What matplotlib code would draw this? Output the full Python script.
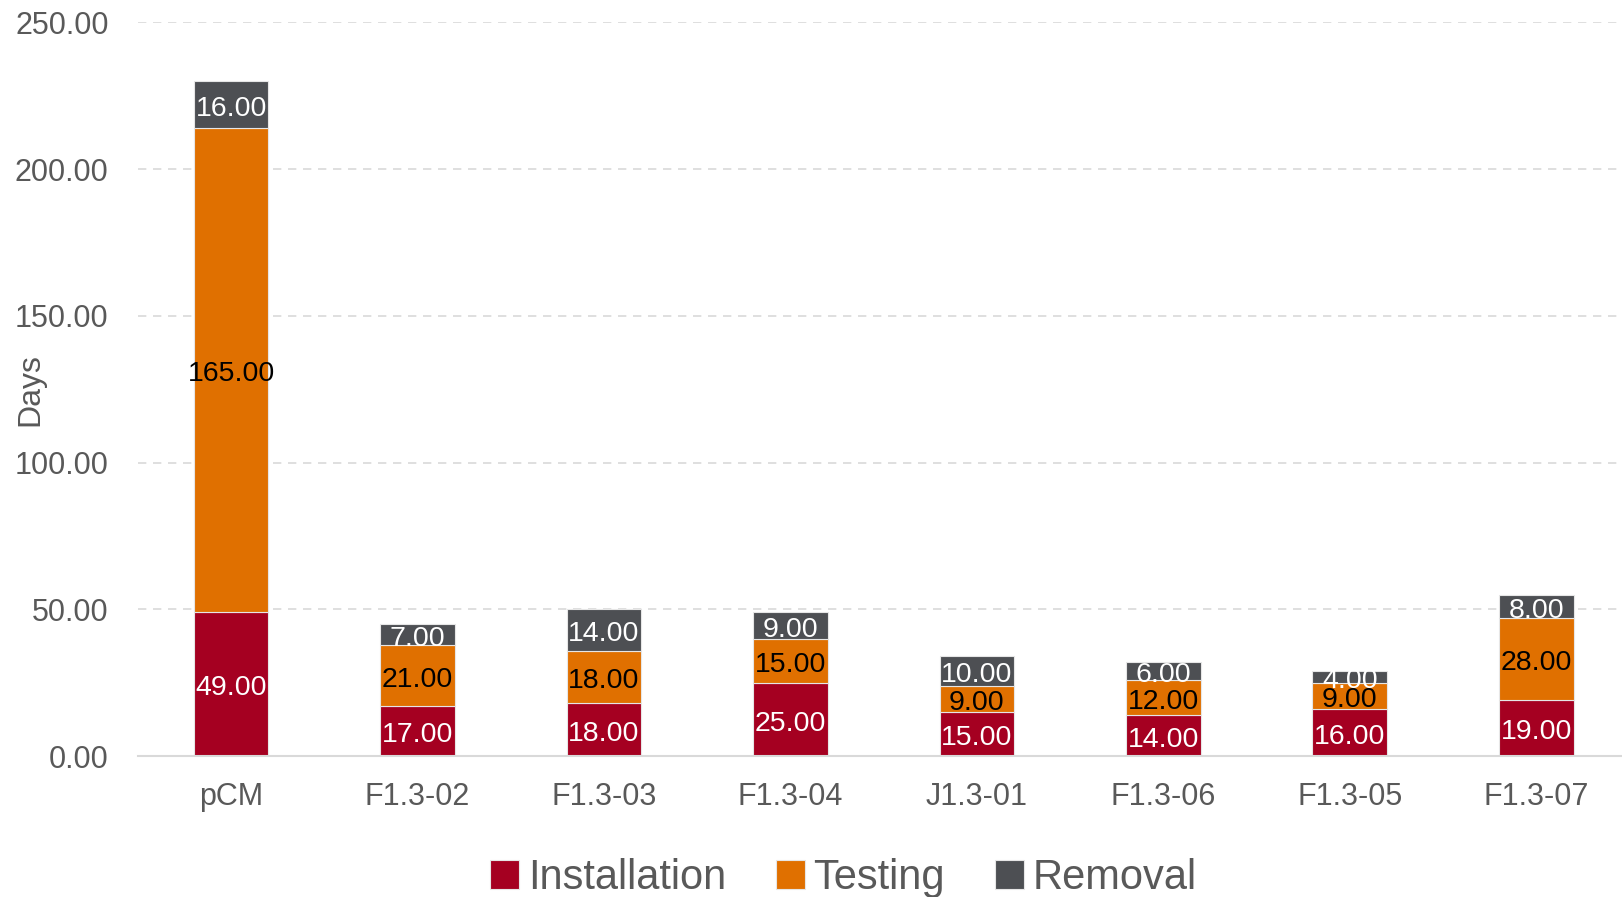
import matplotlib.pyplot as plt
import numpy as np

# stacked days per phase for each sample
categories = ["pCM", "F1.3-02", "F1.3-03", "F1.3-04", "J1.3-01", "F1.3-06", "F1.3-05", "F1.3-07"]
installation = [49, 17, 18, 25, 15, 14, 16, 19]
testing = [165, 21, 18, 15, 9, 12, 9, 28]
removal = [16, 7, 14, 9, 10, 6, 4, 8]

series = [
    ("Installation", installation, "#A50021", "white"),
    ("Testing", testing, "#E07000", "black"),
    ("Removal", removal, "#4D4F53", "white"),
]

plt.rcParams["font.family"] = ["Liberation Sans", "DejaVu Sans"]
grey = "#595959"

fig = plt.figure(figsize=(16.22, 8.97), dpi=100)
ax = fig.add_axes([0.085, 0.157, 0.915, 0.818])

x = np.arange(len(categories))
bottom = np.zeros(len(categories))
for name, vals, color, txt in series:
    ax.bar(x, vals, 0.4, bottom=bottom, color=color, label=name,
           edgecolor="#E6E6E6", linewidth=0.8, zorder=3)
    for xi, b, v in zip(x, bottom, vals):
        ax.annotate(f"{v:.2f}", (xi, b + v / 2), xytext=(0, -3), textcoords="offset points",
                    ha="center", va="center", color=txt, fontsize=20.5, zorder=4)
    bottom += np.array(vals)

ax.set_xlim(-0.5, 7.46)
ax.set_ylim(0, 250)
ax.set_yticks(np.arange(0, 251, 50))
ax.set_yticklabels([f"{v:.2f}" for v in np.arange(0, 251, 50)])
ax.set_xticks(x)
ax.set_xticklabels(categories)
ax.tick_params(axis="both", length=0, labelsize=22, labelcolor=grey)
ax.tick_params(axis="x", pad=18.5)
ax.tick_params(axis="y", pad=21)

ax.yaxis.grid(True, color="#D9D9D9", linestyle=(0, (5, 4)), linewidth=1.2, zorder=0)
for side in ["top", "right", "left"]:
    ax.spines[side].set_visible(False)
ax.spines["bottom"].set_color("#D9D9D9")
ax.spines["bottom"].set_linewidth(1.5)
ax.spines["bottom"].set_zorder(5)

ax.set_ylabel("Days", fontsize=23, color=grey)
ax.yaxis.set_label_coords(-0.062, 0.5)

fig.legend(loc="lower center", bbox_to_anchor=(0.52, -0.043), ncol=3, frameon=False,
           fontsize=30, labelcolor=grey, handlelength=0.7, handleheight=0.7,
           handletextpad=0.2, columnspacing=1.2)

fig.savefig("out.png", dpi=100)
